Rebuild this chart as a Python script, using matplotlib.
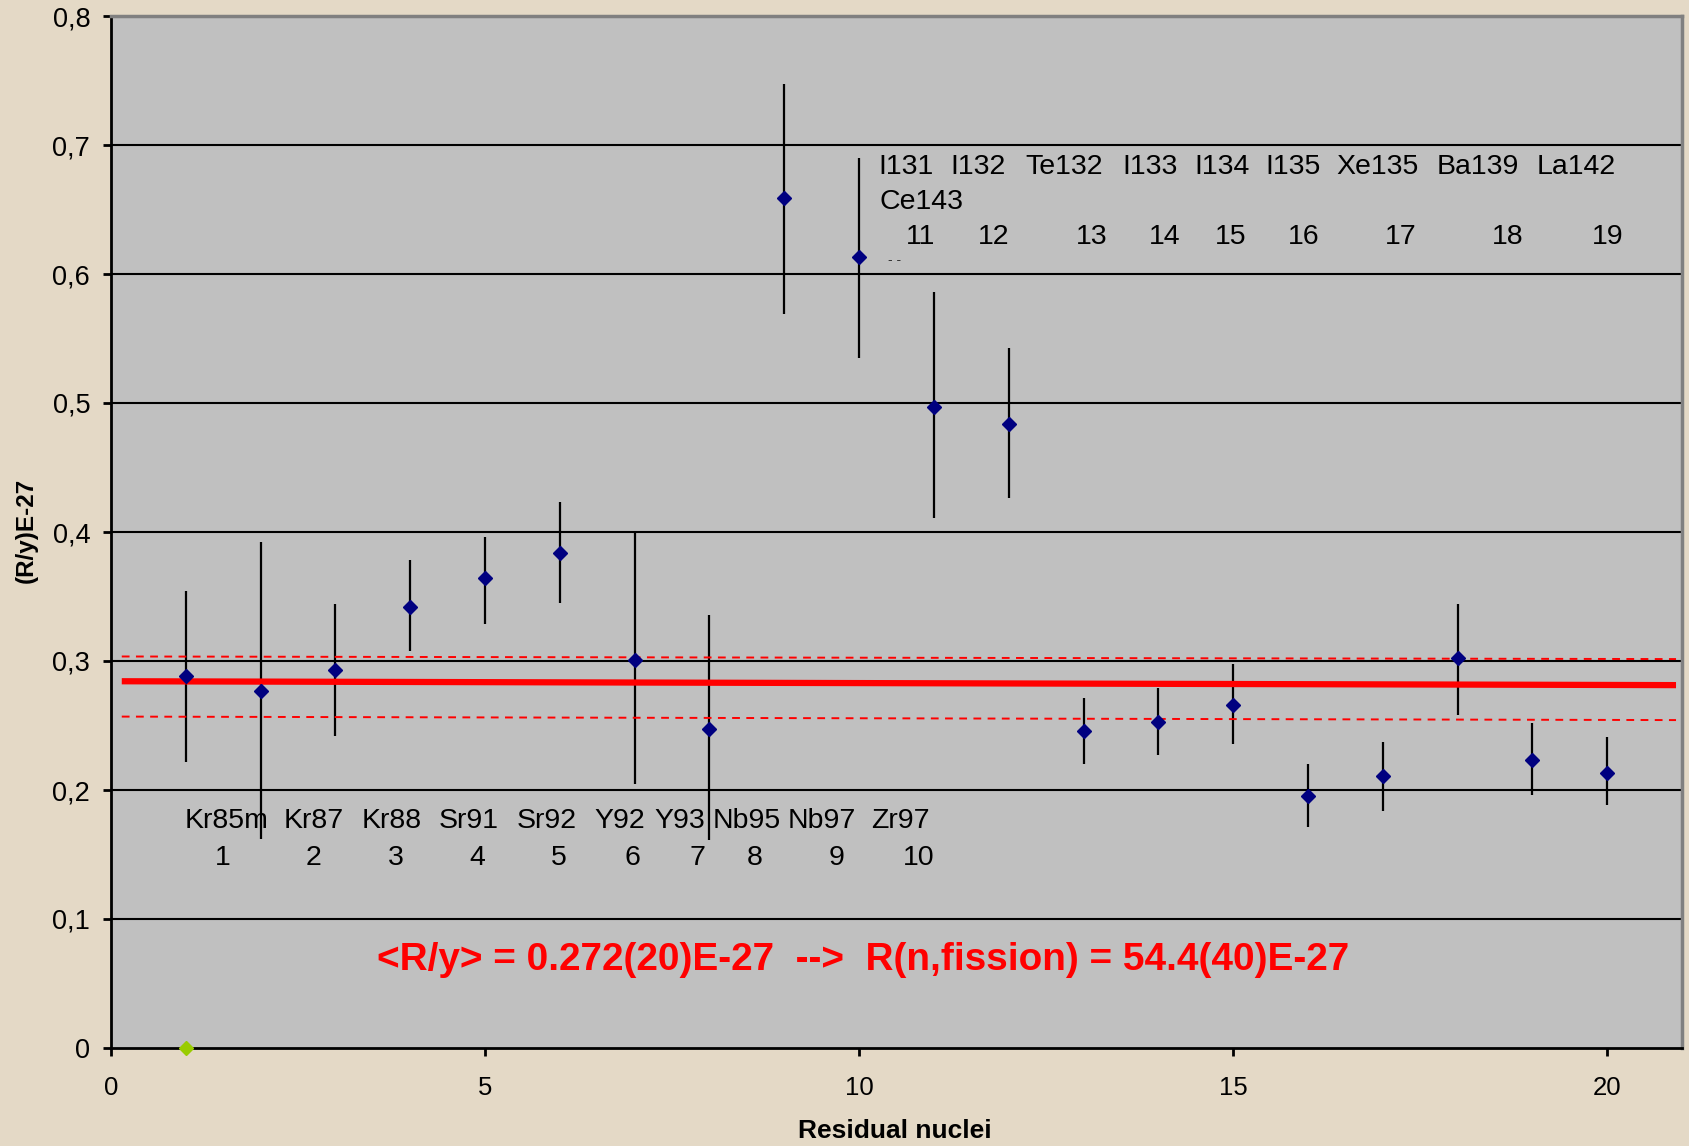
import matplotlib
matplotlib.use("Agg")
import matplotlib.pyplot as plt
from matplotlib.ticker import FixedLocator, FuncFormatter

plt.rcParams['font.family'] = ['Liberation Sans', 'DejaVu Sans']

# ---------------- data ----------------
nucleus_index = list(range(1, 21))
ratio = [0.288, 0.277, 0.293, 0.342, 0.364, 0.384, 0.301, 0.247, 0.659, 0.613,
         0.497, 0.484, 0.246, 0.253, 0.266, 0.195, 0.211, 0.302, 0.223, 0.213]
ratio_upper = [0.354, 0.392, 0.344, 0.378, 0.396, 0.423, 0.400, 0.336, 0.747, 0.690,
               0.586, 0.543, 0.271, 0.279, 0.298, 0.220, 0.237, 0.344, 0.252, 0.241]
ratio_lower = [0.222, 0.162, 0.242, 0.308, 0.329, 0.345, 0.205, 0.161, 0.569, 0.535,
               0.411, 0.426, 0.220, 0.227, 0.236, 0.171, 0.184, 0.258, 0.196, 0.188]

extra_x = [1]
extra_y = [0.0]

# mean line and its +/- band (end points)
line_x = [0.144, 20.92]
mean_line = [0.2843, 0.2813]
upper_band = [0.3035, 0.3015]
lower_band = [0.2569, 0.2542]

names_low = ["Kr85m", "Kr87", "Kr88", "Sr91", "Sr92", "Y92", "Y93", "Nb95", "Nb97", "Zr97"]
nums_low = ["1", "2", "3", "4", "5", "6", "7", "8", "9", "10"]
names_high = ["I131", "I132", "Te132", "I133", "I134", "I135", "Xe135", "Ba139", "La142"]
nums_high = ["11", "12", "13", "14", "15", "16", "17", "18", "19"]
extra_name = "Ce143"

y_ticks = [0.0, 0.1, 0.2, 0.3, 0.4, 0.5, 0.6, 0.7, 0.8]
x_ticks = [0, 5, 10, 15, 20]

result_text = "<R/y> = 0.272(20)E-27  -->  R(n,fission) = 54.4(40)E-27"

# ---------------- layout (label positions, data coords) ----------------
names_low_x = [1.543, 2.711, 3.749, 4.787, 5.826, 6.806, 7.599, 8.493, 9.503, 10.555]
nums_low_x = [1.50, 2.711, 3.807, 4.903, 5.984, 6.965, 7.844, 8.609, 9.705, 10.80]
names_high_x = [10.627, 11.593, 12.747, 13.886, 14.852, 15.804, 16.929, 18.270, 19.582]
nums_high_x = [10.815, 11.795, 13.107, 14.088, 14.968, 15.948, 17.246, 18.673, 20.0]

# ---------------- figure ----------------
fig = plt.figure(figsize=(16.9, 11.46), dpi=100)
fig.patch.set_facecolor('#E4D9C6')
ax = fig.add_axes([111/1690, 1 - 1048/1146, (1682 - 111)/1690, (1048 - 16)/1146])
ax.set_facecolor('#C0C0C0')
ax.set_xlim(0, 21)
ax.set_ylim(0, 0.8)

for yv in y_ticks[1:-1]:
    ax.axhline(yv, color='black', lw=1.5, zorder=1)

yerr = [[r - lo for r, lo in zip(ratio, ratio_lower)],
        [hi - r for r, hi in zip(ratio, ratio_upper)]]
ax.errorbar(nucleus_index, ratio, yerr=yerr, fmt='none', ecolor='black',
            elinewidth=1.6, capsize=0, zorder=3)

ax.plot(line_x, mean_line, color='#FF0000', lw=4.5, solid_capstyle='butt', zorder=4)
ax.plot(line_x, upper_band, color='#FF0000', lw=1.4, dashes=(4, 3.3), zorder=4)
ax.plot(line_x, lower_band, color='#FF0000', lw=1.4, dashes=(4, 3.3), zorder=4)

ax.plot(nucleus_index, ratio, linestyle='none', marker='D', ms=7.2,
        color='#000080', zorder=5)
ax.plot(extra_x, extra_y, linestyle='none', marker='D', ms=7.2,
        color='#99CC00', zorder=6, clip_on=False)

# spines
for side in ['left', 'bottom']:
    ax.spines[side].set_color('black')
    ax.spines[side].set_linewidth(2)
for side in ['top', 'right']:
    ax.spines[side].set_color('#808080')
    ax.spines[side].set_linewidth(2.5)

ax.yaxis.set_major_locator(FixedLocator(y_ticks))
ax.xaxis.set_major_locator(FixedLocator(x_ticks))
ax.yaxis.set_major_formatter(FuncFormatter(
    lambda v, p: "0" if abs(v) < 1e-9 else ("%.1f" % v).replace('.', ',')))
ax.xaxis.set_major_formatter(FuncFormatter(lambda v, p: "%d" % v))
ax.tick_params(axis='y', direction='out', length=6, width=2, pad=9,
               labelsize=19.5, colors='black')
ax.tick_params(axis='x', direction='out', length=6, width=2, pad=14,
               labelsize=18.5, colors='black')

# annotation texts
fs_lab = 20.5
for n, xv in zip(names_low, names_low_x):
    ax.text(xv, 0.1756, n, ha='center', va='center', fontsize=fs_lab, zorder=2)
for n, xv in zip(nums_low, nums_low_x):
    ax.text(xv, 0.1471, n, ha='center', va='center', fontsize=fs_lab, zorder=2)
for n, xv in zip(names_high, names_high_x):
    ax.text(xv, 0.683, n, ha='center', va='center', fontsize=fs_lab, zorder=2)
ax.text(10.27, 0.656, extra_name, ha='left', va='center', fontsize=fs_lab, zorder=2)
for n, xv in zip(nums_high, nums_high_x):
    ax.text(xv, 0.6286, n, ha='center', va='center', fontsize=fs_lab, zorder=2)
ax.text(10.47, 0.611, "- -", ha='center', va='center', fontsize=10, color='#333333', zorder=2)

ax.text(10.058, 0.0686, result_text, ha='center', va='center', fontsize=27.9,
        fontweight='bold', color='#FF0000', zorder=6)

fig.text(26/1690, 1 - 530/1146, "(R/y)E-27", rotation=90, ha='center', va='center',
         fontsize=17.5, fontweight='bold')
fig.text(894.5/1690, 1 - 1131/1146, "Residual nuclei", ha='center', va='center',
         fontsize=19, fontweight='bold')

fig.savefig("out.png", dpi=100, facecolor=fig.get_facecolor())
